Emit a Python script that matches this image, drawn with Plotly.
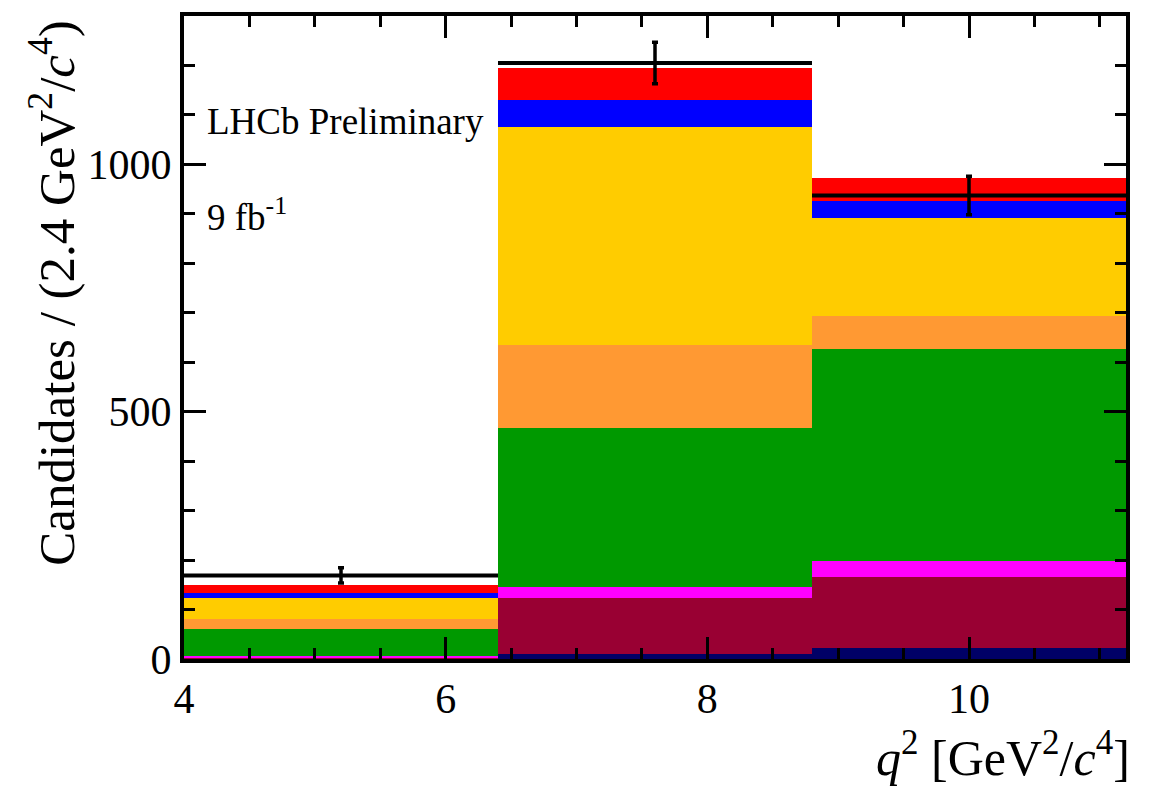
import plotly.graph_objects as go

# q^2 binning [GeV^2/c^4]
bin_centers = [5.2, 7.6, 10.0]
bin_half_width = [1.2, 1.2, 1.2]

# Stacked fit components per bin (bottom to top)
comp_navy = [0.5, 10, 22]
comp_maroon = [2.5, 113, 143]
comp_magenta = [3, 22, 34]
comp_green = [54, 323, 427]
comp_orange = [20, 166, 68]
comp_yellow = [43, 441, 198]
comp_blue = [10, 55, 34]
comp_red = [16, 64, 47]

# Observed candidates with uncertainties
data_counts = [169, 1205, 937]
data_errors = [15.5, 42, 39]

components = [
    (comp_navy, "#000066"),
    (comp_maroon, "#990033"),
    (comp_magenta, "#ff00ff"),
    (comp_green, "#009900"),
    (comp_orange, "#ff9933"),
    (comp_yellow, "#ffcc00"),
    (comp_blue, "#0000ff"),
    (comp_red, "#ff0000"),
]

FONT = "Liberation Serif"

fig = go.Figure()
for vals, col in components:
    fig.add_trace(go.Bar(
        x=bin_centers, y=vals, width=2.4,
        marker=dict(color=col, line=dict(width=0)),
        showlegend=False, hoverinfo="skip",
    ))

fig.add_trace(go.Scatter(
    x=bin_centers, y=data_counts, mode="markers",
    marker=dict(size=1, color="black"),
    error_x=dict(type="data", array=bin_half_width, width=0, thickness=4, color="black"),
    error_y=dict(type="data", array=data_errors, width=3, thickness=3.5, color="black"),
    showlegend=False,
))

W, H = 1158, 788
L, R, T, B = 184, 1126, 13, 659

axis_common = dict(
    showline=True, linewidth=4, linecolor="black", mirror="ticks",
    ticks="inside", tickwidth=3, tickcolor="black", ticklen=22,
    showgrid=False, zeroline=False,
    tickfont=dict(family=FONT, size=42, color="black"),
)

fig.update_layout(
    width=W, height=H,
    margin=dict(l=L, r=W - R, t=T, b=H - B, pad=0),
    paper_bgcolor="white", plot_bgcolor="white",
    barmode="stack", bargap=0,
    xaxis=dict(range=[4, 11.2], tickvals=[4, 6, 8, 10],
               minor=dict(dtick=0.5, tick0=4, ticks="inside", ticklen=11,
                          tickwidth=3, tickcolor="black"),
               **axis_common),
    yaxis=dict(range=[0, 1300], tickvals=[0, 500, 1000],
               minor=dict(dtick=100, tick0=0, ticks="inside", ticklen=11,
                          tickwidth=3, tickcolor="black"),
               **axis_common),
    font=dict(family=FONT, color="black"),
)

def px_x(p):
    return (p - L) / (R - L)

def px_y(p):
    return (B - p) / (B - T)

fig.add_annotation(
    text="LHCb Preliminary", xref="paper", yref="paper",
    x=px_x(205), y=px_y(119), xanchor="left", yanchor="middle",
    showarrow=False, font=dict(family=FONT, size=37, color="black"),
)
fig.add_annotation(
    text="9 fb<sup>-1</sup>", xref="paper", yref="paper",
    x=px_x(205), y=px_y(212), xanchor="left", yanchor="middle",
    showarrow=False, font=dict(family=FONT, size=37, color="black"),
)
fig.add_annotation(
    text="Candidates / (2.4 GeV<sup>2</sup>/<i>c</i><sup>4</sup>)",
    xref="paper", yref="paper", x=px_x(52), y=px_y(291),
    xanchor="center", yanchor="middle", textangle=-90,
    showarrow=False, font=dict(family=FONT, size=51, color="black"),
)
fig.add_annotation(
    text="<i>q</i><sup>2</sup> [GeV<sup>2</sup>/<i>c</i><sup>4</sup>]",
    xref="paper", yref="paper", x=px_x(1132), y=px_y(755),
    xanchor="right", yanchor="middle",
    showarrow=False, font=dict(family=FONT, size=50, color="black"),
)

fig.write_html("out.html")
